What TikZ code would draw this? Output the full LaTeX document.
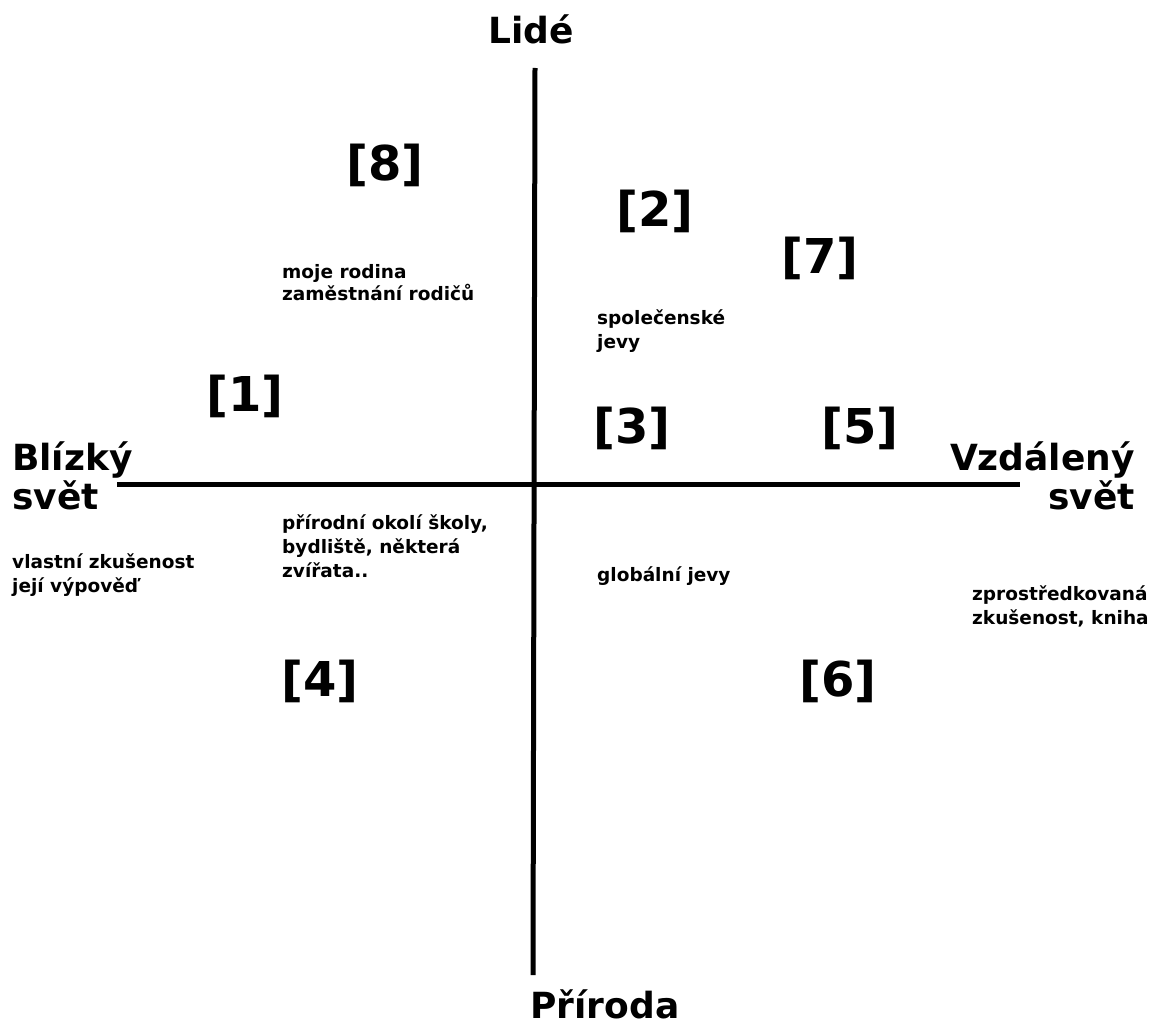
\documentclass[tikz,border=0pt]{standalone}
\usepackage{fontspec}
\setmainfont{DejaVu Sans}
\begin{document}
\begin{tikzpicture}[x=1pt,y=-1pt,
  axis/.style={line width=5pt},
  head/.style={font=\fontsize{36}{38}\selectfont\bfseries, inner sep=0pt},
  num/.style={font=\fontsize{48}{50}\selectfont\bfseries, inner sep=0pt, anchor=center},
  small/.style={font=\fontsize{18.5}{24}\selectfont\bfseries, inner sep=0pt, align=left, anchor=base west}]
\useasboundingbox[fill=white] (0,0) rectangle (1160,1030);
% axes
\coordinate (vtop) at (535,68);
\coordinate (vbot) at (533,975);
\coordinate (hleft) at (117,484);
\coordinate (hright) at (1020,484);
\draw[axis] (vtop) -- (vbot);
\draw[axis] (hleft) -- (hright);
% axis labels
\node[head, anchor=base] (lide) at (531,44) {Lidé};
\node[head, anchor=base] (priroda) at (605,1018) {Příroda};
\node[head, anchor=base west, align=left] (blizky) at (12,509) {Blízký\\[1pt]svět};
\node[head, anchor=base east, align=right] (vzdaleny) at (1135,509) {Vzdálený\\[1pt]svět};
% numbers
\node[num] (n8) at (385,165) {[8]};
\node[num] (n2) at (655,211) {[2]};
\node[num] (n7) at (820,258) {[7]};
\node[num] (n1) at (245,396) {[1]};
\node[num] (n3) at (632,428) {[3]};
\node[num] (n5) at (860,428) {[5]};
\node[num] (n4) at (320,681) {[4]};
\node[num] (n6) at (838,681) {[6]};
% small texts (base = baseline of last line)
\node[small] (rodina) at (282,300) {moje rodina\\[-2pt]zaměstnání rodičů};
\node[small] (spol) at (597,348) {společenské\\jevy};
\node[small] (okoli) at (282,577) {přírodní okolí školy,\\bydliště, některá\\zvířata..};
\node[small] (vlastni) at (12,592) {vlastní zkušenost\\její výpověď};
\node[small] (glob) at (597,581) {globální jevy};
\node[small] (zprost) at (972,624) {zprostředkovaná\\zkušenost, kniha};
\end{tikzpicture}
\end{document}
